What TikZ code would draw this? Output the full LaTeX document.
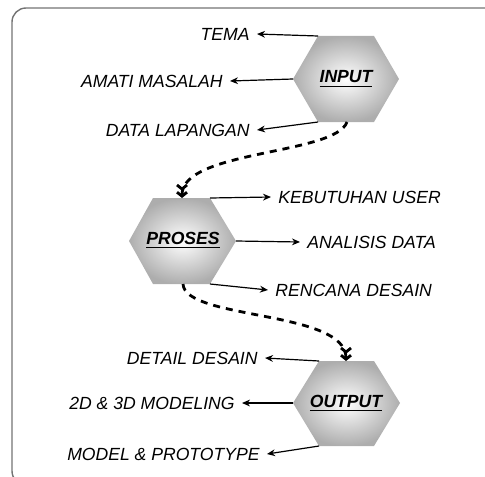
\documentclass[tikz,border=0pt]{standalone}
\usepackage{fontspec}
\setmainfont{Liberation Sans}
\usetikzlibrary{positioning,arrows.meta}

\begin{document}
\begin{tikzpicture}[x=0.5pt,y=-0.5pt,
    frame/.style={draw=black!55,line width=0.7pt,rounded corners=7pt},
    hexa/.style={inner color=white,outer color=black!32},
    hexlabel/.style={font=\fontsize{8.8}{10}\selectfont\bfseries\itshape},
    lbl/.style={font=\fontsize{8.8}{10}\selectfont\itshape,inner sep=3.5pt},
    link/.style={-{Stealth[length=4pt,width=3.4pt]},line width=0.6pt},
    flow/.style={-{Straight Barb[length=2pt,width=5pt]Straight Barb[length=2pt,width=5pt]},
      line width=1.4pt,dash pattern=on 3.5pt off 3pt}]
  \useasboundingbox (0,0) rectangle (485,476);
  \clip (0,0) rectangle (485,476);
  \draw[frame] (12,8) rectangle (500,485);

  % hexagons
  \shade[hexa] (293,79) coordinate (inW) -- (318,36) coordinate (inNW)
    -- (374,36) -- (399,79) -- (374,122) -- (347,122) coordinate (inS)
    -- (318,122) coordinate (inSW) -- cycle;
  \shade[hexa] (129,241) -- (153,198) -- (182,198) coordinate (prN)
    -- (210,198) coordinate (prNE) -- (236,241) coordinate (prE)
    -- (210,284) coordinate (prSE) -- (183,284) coordinate (prS)
    -- (153,284) -- cycle;
  \shade[hexa] (293,403) coordinate (outW) -- (319,361) coordinate (outNW)
    -- (346,361) coordinate (outN) -- (374,361) -- (400,403) -- (374,446)
    -- (319,446) coordinate (outSW) -- cycle;

  \node[hexlabel] (input) at (346,79) {\underline{INPUT}};
  \node[hexlabel] (proses) at (183,240) {\underline{PROSES}};
  \node[hexlabel] (output) at (346,403) {\underline{OUTPUT}};

  % input
  \node[lbl,anchor=east] (tema) at (257,34) {TEMA};
  \node[lbl,anchor=east] (amati) at (230,81) {AMATI MASALAH};
  \node[lbl,anchor=east] (lapangan) at (257,130) {DATA LAPANGAN};
  \draw[link] (inNW) -- (tema.east);
  \draw[link] (inW) -- (amati.east);
  \draw[link] (inSW) -- (lapangan.east);

  % proses
  \node[lbl,anchor=west] (kebutuhan) at (271,197) {KEBUTUHAN USER};
  \node[lbl,anchor=west] (analisis) at (300,242) {ANALISIS DATA};
  \node[lbl,anchor=west] (rencana) at (268,290) {RENCANA DESAIN};
  \draw[link] (prNE) -- (kebutuhan.west);
  \draw[link] (prE) -- (analisis.west);
  \draw[link] (prSE) -- (rencana.west);

  % output
  \node[lbl,anchor=east] (detail) at (265,358) {DETAIL DESAIN};
  \node[lbl,anchor=east] (modeling) at (242,403) {2D \& 3D MODELING};
  \node[lbl,anchor=east] (prototype) at (267,454) {MODEL \& PROTOTYPE};
  \draw[link] (outNW) -- (detail.east);
  \draw[link] (outW) -- (modeling.east);
  \draw[link] (outSW) -- (prototype.east);

  \draw[flow] (inS) .. controls (335,155) and (182,150) .. (prN);
  \draw[flow] (prS) .. controls (185,320) and (346,310) .. (outN);
\end{tikzpicture}
\end{document}
